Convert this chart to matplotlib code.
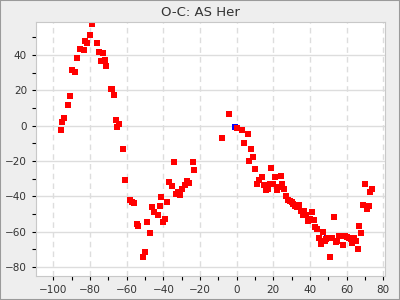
import numpy as np
import matplotlib
matplotlib.use("Agg")
import matplotlib.pyplot as plt
from matplotlib.ticker import MultipleLocator
from matplotlib.patches import Rectangle

# O-C values (cycle offset, days*1000-ish)
red_x = [-78.8, -79.9, -82.9, -81.8, -76.0, -85.6, -83.5, -75.0, -72.8, -87.0,
         -73.9, -71.7, -71.1, -89.7, -88.1, -68.7, -67.9, -90.8, -66.8, -91.9,
         -94.1, -95.1, -65.7, -64.0, -65.1, -95.7, -61.9, -60.8, -58.0, -57.0,
         -55.9, -54.2, -53.7, -48.8, -47.1, -49.9, -51.0, -46.0, -44.9, -42.8,
         -41.7, -41.1, -40.0, -39.0, -37.9, -36.8, -35.1, -34.0, -33.0, -31.9,
         -30.8, -29.7, -28.0, -26.9, -25.9, -23.7, -23.1, -7.9, -4.0, 0.3,
         3.1, 6.3, 4.1, 8.0, 9.1, 6.9, 10.1, 11.2, 12.3, 14.0,
         15.1, 16.1, 17.2, 18.3, 18.9, 20.0, 21.1, 22.1, 23.2, 24.3,
         24.9, 26.0, 27.1, 28.2, 29.2, 30.3, 30.9, 32.0, 33.1, 34.2,
         35.2, 36.3, 36.9, 38.0, 39.1, 40.2, 41.2, 42.3, 42.9, 44.0,
         45.1, 46.2, 47.2, 48.3, 48.9, 50.0, 51.1, 52.2, 53.2, 54.3,
         54.9, 56.0, 57.1, 58.2, 59.2, 60.3, 61.4, 62.5, 63.1, 64.2,
         65.2, 66.3, 66.9, 68.0, 69.1, 70.2, 71.3, 72.3, 72.9, 74.0]
red_y = [57.4, 51.2, 47.8, 46.6, 46.6, 43.2, 42.7, 41.5, 41.0, 38.1,
         36.4, 37.0, 33.6, 31.4, 30.2, 20.6, 20.6, 16.6, 17.2, 11.5,
         4.2, 1.9, 3.1, 0.8, -0.9, -2.6, -13.4, -30.9, -42.2, -43.4,
         -43.9, -55.8, -56.9, -54.7, -60.9, -71.6, -74.5, -46.2, -49.0, -50.7,
         -45.6, -40.5, -54.7, -53.0, -43.4, -32.0, -34.3, -20.7, -38.8, -37.7,
         -39.4, -36.0, -33.7, -31.5, -32.6, -20.7, -25.2, -7.1, 6.5, -1.5,
         -2.6, -4.9, -10.0, -13.4, -17.9, -20.1, -24.7, -33.2, -30.9, -29.2,
         -33.7, -36.6, -36.0, -33.2, -24.1, -33.2, -29.2, -36.6, -34.9, -28.6,
         -33.2, -36.0, -40.0, -42.2, -42.8, -43.4, -44.5, -45.6, -46.2, -45.0,
         -48.4, -50.7, -48.4, -50.7, -54.1, -53.0, -49.0, -53.5, -57.5, -58.6,
         -63.7, -67.1, -60.3, -65.4, -64.3, -63.7, -74.5, -63.7, -51.8, -66.0,
         -65.4, -62.6, -62.6, -67.7, -62.6, -63.2, -63.7, -64.3, -66.6, -63.7,
         -65.4, -69.9, -56.9, -60.9, -45.0, -33.2, -47.3, -45.6, -37.7, -36.0]

blue_x = [-0.8, 49.4]
blue_y = [-0.9, -63.4]

title = "O-C: AS Her"

fig = plt.figure(figsize=(4, 3), dpi=100, facecolor="#eeeeee")
fig.patches.append(Rectangle((0, 0), 1, 1, transform=fig.transFigure,
                             fill=False, edgecolor="#9a9a9a", lw=1.5))
ax = fig.add_axes([0.09, 0.08, 0.8725, 0.847])
ax.set_facecolor("white")

ax.set_xlim(-109.5, 81)
ax.set_ylim(-85, 58.6)
ax.xaxis.set_major_locator(MultipleLocator(20))
ax.xaxis.set_minor_locator(MultipleLocator(10))
ax.yaxis.set_major_locator(MultipleLocator(20))
ax.yaxis.set_minor_locator(MultipleLocator(10))

ax.grid(True, axis="y", which="major", color="#dddddd", lw=1, ls="-")
ax.grid(True, axis="x", which="major", color="#dddddd", lw=1, ls=(0, (4, 3)))
ax.set_axisbelow(True)

ax.tick_params(which="both", direction="out", length=3, width=0.8,
               colors="black", labelsize=7.5, labelcolor="#333333")
for s in ax.spines.values():
    s.set_color("#c8c8c8")

# blue drawn first: the red squares sit on top of it in the reference
ax.plot(blue_x, blue_y, "s", color="#0000ff", ms=4.3, mew=0, ls="none")
ax.plot(red_x, red_y, "s", color="#ff0000", ms=4.3, mew=0, ls="none")

fig.text(0.5, 0.96, title, ha="center", va="center", fontsize=9.5, color="#333333")

fig.savefig("out.png", dpi=100, facecolor=fig.get_facecolor())
